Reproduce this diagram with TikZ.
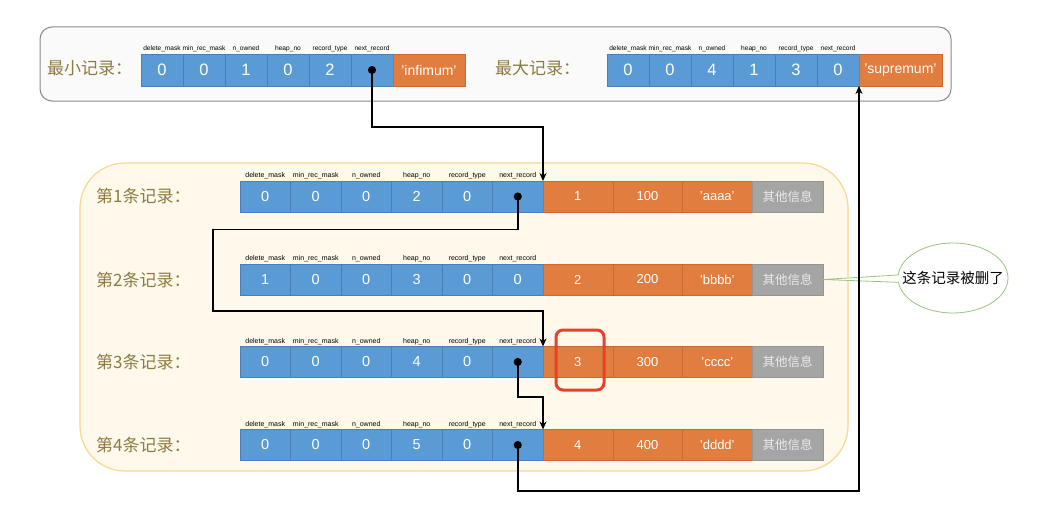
\documentclass[tikz,border=0pt]{standalone}
\usepackage{fontspec}
\setmainfont{Liberation Sans}
\newfontfamily\cjk{Noto Sans CJK SC}
\usetikzlibrary{arrows.meta,positioning,shapes.callouts}
\definecolor{cBlue}{HTML}{5B9BD5}
\definecolor{cBlueLine}{HTML}{4A80B8}
\definecolor{cOrange}{HTML}{E07D3F}
\definecolor{cOrangeLine}{HTML}{C96A2E}
\definecolor{cGray}{HTML}{A5A5A5}
\definecolor{cGrayLine}{HTML}{959595}
\definecolor{cLabel}{HTML}{8C7B3E}
\definecolor{cCream}{HTML}{FFF9EC}
\definecolor{cCreamLine}{HTML}{F6D98E}
\definecolor{cFrame}{HTML}{8C8C8C}
\definecolor{cRed}{HTML}{E8402B}
\definecolor{cGreen}{HTML}{9CC27E}

\begin{document}
\begin{tikzpicture}[
  x=1pt, y=-1pt,
  cell/.style={draw=#1Line, fill=#1, text=white, inner sep=0pt, outer sep=0pt, line width=0.4pt, minimum height=31pt},
  bcell/.style={cell=cBlue, minimum width=50.5pt, font=\fontsize{14.5}{14.5}\selectfont},
  ocell/.style={cell=cOrange, minimum width=69.7pt, font=\fontsize{13}{13}\selectfont},
  gcell/.style={cell=cGray, minimum width=71pt, text=white!92!black, font=\cjk\fontsize{12.5}{12.5}\selectfont},
  topcell/.style={minimum width=42pt, minimum height=32pt, font=\fontsize{16.5}{16.5}\selectfont},
  field/.style={anchor=south, inner sep=1.5pt, font=\fontsize{7}{7}\selectfont},
  topfield/.style={field, font=\fontsize{6.6}{6.6}\selectfont},
  rowlab/.style={anchor=west, inner sep=0pt, text=cLabel, font=\cjk\fontsize{17}{17}\selectfont},
  panel/.style={draw=cFrame, fill=white!98!black, rounded corners=12pt, line width=1pt},
  lane/.style={draw=cCreamLine, fill=cCream, rounded corners=45pt, line width=1.2pt},
  link/.style={line width=1.8pt, {Circle[length=8pt]}-{Stealth[length=8pt, width=7pt]}},
]
\useasboundingbox[fill=white] (0,0) rectangle (1063,527);

% ── frames ────────────────────────────────────────────────────────────────
\node[panel, minimum width=911pt, minimum height=74pt] (minmax) at (495.5,64) {};
\node[lane, minimum width=768pt, minimum height=308pt] (users) at (464,317) {};

% ── infimum / supremum ────────────────────────────────────────────────────
\node[rowlab] (labinf) at (47,68) {最小记录：};
\foreach \v [count=\i] in {0,0,1,0,2,{}}
  \node[bcell, topcell] (inf-\i) at ({141+42*\i-21},70) {\v};
\node[ocell, minimum width=72pt, minimum height=32pt, font=\fontsize{14}{14}\selectfont, right=0pt of inf-6] (inf-7) {'infimum'};

\node[rowlab] (labsup) at (495,68) {最大记录：};
\foreach \v [count=\i] in {0,0,4,1,3,0}
  \node[bcell, topcell] (sup-\i) at ({607+42*\i-21},70) {\v};
\node[ocell, minimum width=83pt, minimum height=32pt, font=\fontsize{14}{14}\selectfont, right=0pt of sup-6] (sup-7) {'supremum'};

\foreach \f [count=\i] in {delete\_mask,min\_rec\_mask,n\_owned,heap\_no,record\_type,next\_record}{
  \node[topfield] (infl-\i) at (inf-\i.north) {\f};
  \node[topfield] (supl-\i) at (sup-\i.north) {\f};
}

% ── user records ──────────────────────────────────────────────────────────
\node[rowlab] (lab1) at (96,196) {第1条记录：};
\foreach \v [count=\i] in {0,0,0,2,0,{}} \node[bcell] (r1-\i) at ({240+50.5*\i-25.25},196.5) {\v};
\node[ocell, right=0pt of r1-6] (r1-7) {1};
\node[ocell, right=0pt of r1-7] (r1-8) {100};
\node[ocell, right=0pt of r1-8] (r1-9) {'aaaa'};
\node[gcell, right=0pt of r1-9] (r1-10) {其他信息};

\node[rowlab] (lab2) at (96,280) {第2条记录：};
\foreach \v [count=\i] in {1,0,0,3,0,0} \node[bcell] (r2-\i) at ({240+50.5*\i-25.25},279.5) {\v};
\node[ocell, right=0pt of r2-6] (r2-7) {2};
\node[ocell, right=0pt of r2-7] (r2-8) {200};
\node[ocell, right=0pt of r2-8] (r2-9) {'bbbb'};
\node[gcell, right=0pt of r2-9] (r2-10) {其他信息};

\node[rowlab] (lab3) at (96,362) {第3条记录：};
\foreach \v [count=\i] in {0,0,0,4,0,{}} \node[bcell] (r3-\i) at ({240+50.5*\i-25.25},362) {\v};
\node[ocell, right=0pt of r3-6] (r3-7) {3};
\node[ocell, right=0pt of r3-7] (r3-8) {300};
\node[ocell, right=0pt of r3-8] (r3-9) {'cccc'};
\node[gcell, right=0pt of r3-9] (r3-10) {其他信息};

\node[rowlab] (lab4) at (96,445) {第4条记录：};
\foreach \v [count=\i] in {0,0,0,5,0,{}} \node[bcell] (r4-\i) at ({240+50.5*\i-25.25},445) {\v};
\node[ocell, right=0pt of r4-6] (r4-7) {4};
\node[ocell, right=0pt of r4-7] (r4-8) {400};
\node[ocell, right=0pt of r4-8] (r4-9) {'dddd'};
\node[gcell, right=0pt of r4-9] (r4-10) {其他信息};

\foreach \r in {1,...,4}
  \foreach \f [count=\i] in {delete\_mask,min\_rec\_mask,n\_owned,heap\_no,record\_type,next\_record}
    \node[field] (f\r-\i) at (r\r-\i.north) {\f};

% ── marks ─────────────────────────────────────────────────────────────────
\node[draw=cRed, line width=3pt, rounded corners=7pt, minimum width=48pt, minimum height=60pt] (mark) at (580,360) {};
\node[ellipse callout, draw=cGreen, fill=white, line width=0.8pt, minimum width=110pt, minimum height=70pt, inner sep=0pt,
  callout absolute pointer={(r2-10.east)}, callout pointer arc=12, font=\cjk\fontsize{14.5}{14.5}\selectfont] (note) at (953,278)
  {\makebox[0pt]{这条记录被删了}};

% ── next_record links ─────────────────────────────────────────────────────
\coordinate (turn) at (213,311);
\draw[link] ([yshift=4pt]inf-6.center) -- ++(0,61) -| (r1-7.north west);
\draw[link] ([yshift=4pt]r1-6.center) -- ++(0,37) -| (turn) -| (r3-7.north west);
\draw[link] ([yshift=4pt]r3-6.center) -- ++(0,39) -| (r4-7.north west);
\draw[link] ([yshift=4pt]r4-6.center) -- ++(0,50) -| (sup-7.south west);
\end{tikzpicture}
\end{document}
